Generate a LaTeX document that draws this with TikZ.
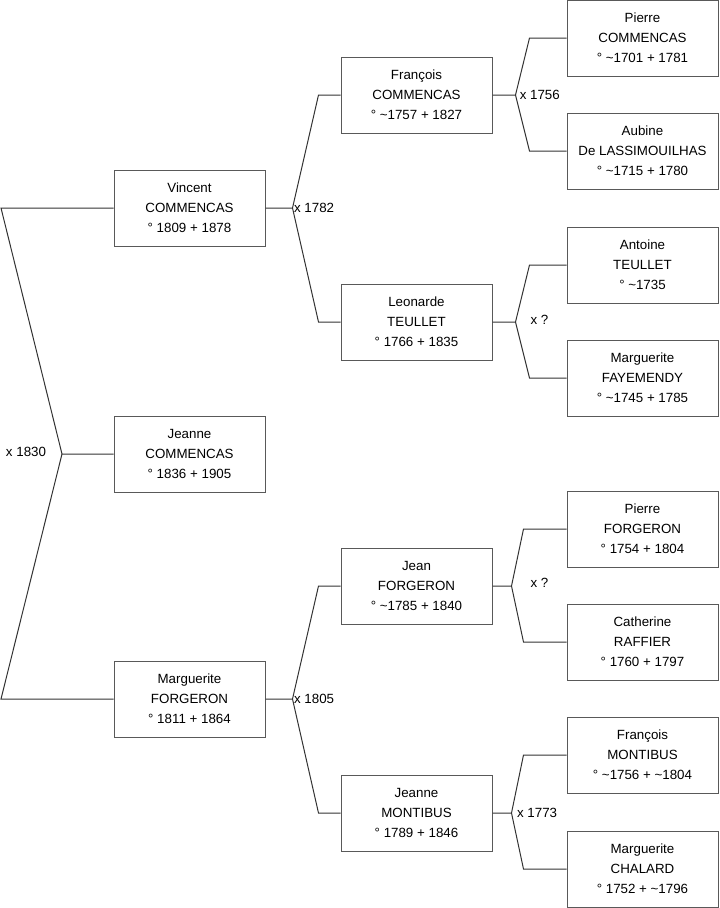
\documentclass[tikz,border=0pt]{standalone}
\usepackage{fontspec}
\setmainfont{Liberation Sans}
\usepackage{tikz}
\usetikzlibrary{calc}
\tikzset{
  person/.style={draw=black!65,line width=0.75pt,align=center,fill=white,
                 font=\fontsize{10}{15}\selectfont,
                 minimum width=113.25pt,minimum height=57pt,inner sep=0pt},
  link/.style={draw=black!80,line width=0.75pt},
  wed/.style={font=\fontsize{10}{12}\selectfont,inner sep=1pt},
}
\newcommand{\abt}{\textasciitilde}

\begin{document}
\begin{tikzpicture}[x=0.75pt,y=-0.75pt]
\useasboundingbox (0,0) rectangle (719,908);
% generation 1
\node[person] (vincent) at (189.5,208) {Vincent\\COMMENCAS\\° 1809 + 1878};
\node[person] (jeanne)  at (189.5,454) {Jeanne\\COMMENCAS\\° 1836 + 1905};
\node[person] (margF)   at (189.5,699) {Marguerite\\FORGERON\\° 1811 + 1864};
% generation 2
\node[person] (francois) at (416.5,95)  {François\\COMMENCAS\\° \abt1757 + 1827};
\node[person] (leonarde) at (416.5,322) {Leonarde\\TEULLET\\° 1766 + 1835};
\node[person] (jean)     at (416.5,586) {Jean\\FORGERON\\° \abt1785 + 1840};
\node[person] (jeanneM)  at (416.5,813) {Jeanne\\MONTIBUS\\° 1789 + 1846};
% generation 3
\node[person] (pierreC)   at (642.5,38)  {Pierre\\COMMENCAS\\° \abt1701 + 1781};
\node[person] (aubine)    at (642.5,151) {Aubine\\De LASSIMOUILHAS\\° \abt1715 + 1780};
\node[person] (antoine)   at (642.5,265) {Antoine\\TEULLET\\° \abt1735};
\node[person] (margFay)   at (642.5,378) {Marguerite\\FAYEMENDY\\° \abt1745 + 1785};
\node[person] (pierreF)   at (642.5,529) {Pierre\\FORGERON\\° 1754 + 1804};
\node[person] (catherine) at (642.5,642) {Catherine\\RAFFIER\\° 1760 + 1797};
\node[person] (francoisM) at (642.5,755) {François\\MONTIBUS\\° \abt1756 + \abt1804};
\node[person] (margC)     at (642.5,869) {Marguerite\\CHALARD\\° 1752 + \abt1796};

% couple of the child
\coordinate (o)  at (1,0);
\coordinate (m0) at (62,454);
\draw[link] (vincent.west) -- (vincent.west -| o) -- (m0) -- (jeanne.west);
\draw[link] (m0) -- (margF.west -| o) -- (margF.west);
\node[wed] (w0) at (26,452) {x 1830};

% parents
\draw[link] (vincent.east) -- ++(27,0) coordinate (m1)
  -- ($(francois.west)+(-22,0)$) -- (francois.west);
\draw[link] (m1) -- ($(leonarde.west)+(-22,0)$) -- (leonarde.west);
\node[wed,anchor=west] (w1) at (m1) {x 1782};
\draw[link] (margF.east) -- ++(27,0) coordinate (m2)
  -- ($(jean.west)+(-22,0)$) -- (jean.west);
\draw[link] (m2) -- ($(jeanneM.west)+(-22,0)$) -- (jeanneM.west);
\node[wed,anchor=west] (w2) at (m2) {x 1805};

% grandparents
\draw[link] (francois.east) -- ++(23,0) coordinate (m3)
  -- ($(pierreC.west)+(-37,0)$) -- (pierreC.west);
\draw[link] (m3) -- ($(aubine.west)+(-37,0)$) -- (aubine.west);
\node[wed,anchor=west,xshift=2pt] (w3) at (m3) {x 1756};
\draw[link] (leonarde.east) -- ++(23,0) coordinate (m4)
  -- ($(antoine.west)+(-37,0)$) -- (antoine.west);
\draw[link] (m4) -- ($(margFay.west)+(-37,0)$) -- (margFay.west);
\node[wed] (w4) at ($(m4)+(24,-2)$) {x ?};
\draw[link] (jean.east) -- ++(19,0) coordinate (m5)
  -- ($(pierreF.west)+(-43,0)$) -- (pierreF.west);
\draw[link] (m5) -- ($(catherine.west)+(-43,0)$) -- (catherine.west);
\node[wed] (w5) at ($(m5)+(28,-3)$) {x ?};
\draw[link] (jeanneM.east) -- ++(19,0) coordinate (m6)
  -- ($(francoisM.west)+(-43,0)$) -- (francoisM.west);
\draw[link] (m6) -- ($(margC.west)+(-43,0)$) -- (margC.west);
\node[wed,anchor=west,xshift=3pt] (w6) at (m6) {x 1773};
\end{tikzpicture}
\end{document}
